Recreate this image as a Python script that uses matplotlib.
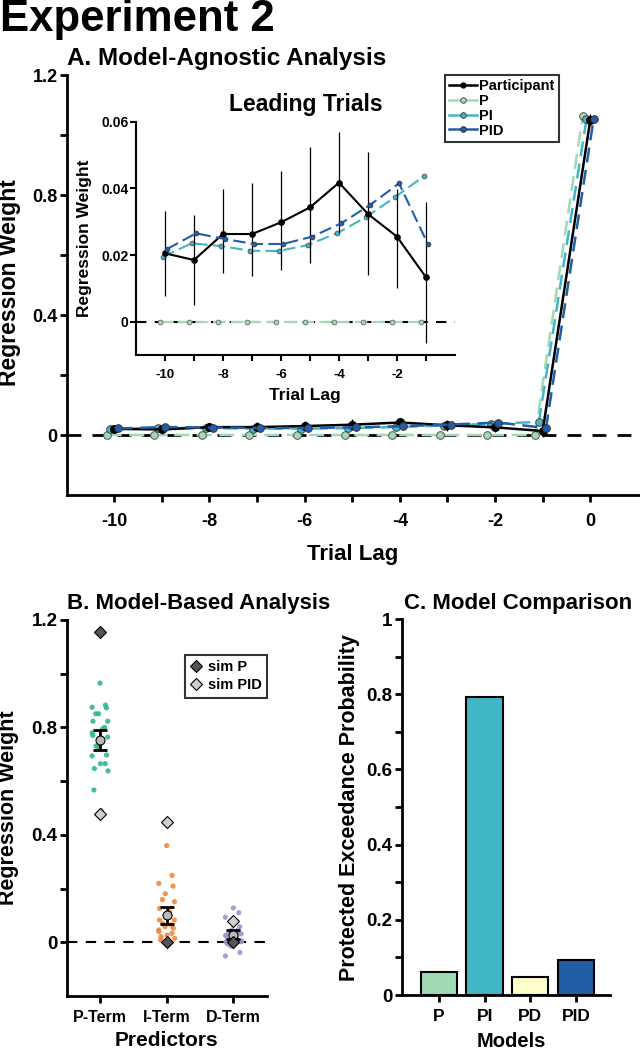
import numpy as np
import matplotlib
matplotlib.use('Agg')
import matplotlib.pyplot as plt
from matplotlib.lines import Line2D

plt.rcParams['font.family'] = ['Liberation Sans', 'DejaVu Sans']
plt.rcParams['font.weight'] = 'bold'
plt.rcParams['axes.labelweight'] = 'bold'
plt.rcParams['axes.titleweight'] = 'bold'

# ---------------- data: panel A ----------------
lags = [-10, -9, -8, -7, -6, -5, -4, -3, -2, -1, 0]
participant = [0.0205, 0.0185, 0.0263, 0.0263, 0.0298, 0.0343, 0.0417, 0.0323, 0.0255, 0.0133, 1.050]
participant_lo = [0.0077, 0.0050, 0.0145, 0.0137, 0.0155, 0.0175, 0.0265, 0.0140, 0.0100, -0.0065, 1.030]
participant_hi = [0.0332, 0.0320, 0.0398, 0.0417, 0.0453, 0.0523, 0.0570, 0.0510, 0.0398, 0.0359, 1.070]
model_P = [0.0, 0.0, 0.0, 0.0, 0.0, 0.0, 0.0, 0.0, 0.0, 0.0, 1.062]
model_PI = [0.0195, 0.0235, 0.0227, 0.0213, 0.0212, 0.0230, 0.0265, 0.0313, 0.0373, 0.0436, 1.052]
model_PID = [0.0218, 0.0265, 0.0248, 0.0233, 0.0233, 0.0255, 0.0295, 0.0350, 0.0415, 0.0232, 1.052]
series_names = ['Participant', 'P', 'PI', 'PID']

# ---------------- data: panel B ----------------
predictors = ['P-Term', 'I-Term', 'D-Term']
p_term = [0.965, 0.883, 0.875, 0.873, 0.851, 0.851, 0.823, 0.823, 0.795, 0.795, 0.770, 0.764,
          0.731, 0.727, 0.697, 0.694, 0.665, 0.665, 0.647, 0.638, 0.567, 0.490, 0.800, 0.780]
i_term = [0.360, 0.249, 0.219, 0.209, 0.181, 0.159, 0.151, 0.126, 0.114, 0.101, 0.083, 0.083,
          0.070, 0.058, 0.052, 0.046, 0.033, 0.027, 0.021, 0.015, 0.009, -0.004, 0.065, 0.040]
d_term = [0.128, 0.110, 0.093, 0.058, 0.046, 0.040, 0.031, 0.027, 0.023, 0.015, 0.002, 0.002,
          -0.010, -0.016, -0.038, -0.051, 0.035, 0.020, 0.010, 0.005, -0.005, 0.030, 0.045, 0.025]
group_mean = [0.752, 0.101, 0.028]
group_err = [0.037, 0.032, 0.016]
sim_P = [1.157, 0.000, 0.000]
sim_PID = [0.478, 0.447, 0.079]

# ---------------- data: panel C ----------------
models = ['P', 'PI', 'PD', 'PID']
pxp = [0.062, 0.792, 0.047, 0.093]

# ---------------- styles ----------------
c_P = '#a1dab4'
c_PI = '#41b6c4'
c_PID = '#225ea8'
c_PD = '#ffffcc'
dot_colors = ['#35b58f', '#f0883a', '#9a96d0']
offsets = {'Participant': 0.0, 'P': -0.16, 'PI': -0.08, 'PID': 0.07}

W, H = 640, 1050
fig = plt.figure(figsize=(W / 100, H / 100), dpi=100)


def fx(px):
    return px / W


def fy(py):
    return 1 - py / H


def style_axes(ax, lw=2.0):
    for s in ['top', 'right']:
        ax.spines[s].set_visible(False)
    for s in ['left', 'bottom']:
        ax.spines[s].set_linewidth(lw)


# ================= Panel A main =================
axA = fig.add_axes([fx(66.7), fy(495), fx(640 - 66.7), (495 - 75) / H])
style_axes(axA)
axA.axhline(0, color='black', lw=2, ls=(0, (5, 4)), zorder=1)

x = np.array(lags, dtype=float)
part = np.array(participant)
err_lo = part - np.array(participant_lo)
err_hi = np.array(participant_hi) - part

axA.plot(x + offsets['P'], model_P, ls=(0, (6, 3)), color=c_P, lw=1.8, marker='o', ms=5.5,
         mfc=c_P, mec='#555555', mew=0.7, zorder=3)
axA.plot(x + offsets['PI'], model_PI, ls=(0, (6, 3)), color=c_PI, lw=1.8, marker='o', ms=5.5,
         mfc=c_PI, mec='#444444', mew=0.7, zorder=4)
axA.errorbar(x + offsets['Participant'], part, yerr=[err_lo, err_hi], color='black', lw=1.8,
             marker='o', ms=5.5, mfc='black', mec='black', elinewidth=1.0, capsize=0, zorder=5)
axA.plot(x + offsets['PID'], model_PID, ls=(0, (6, 3)), color=c_PID, lw=1.8, marker='o', ms=5.5,
         mfc=c_PID, mec='#333333', mew=0.7, zorder=6)

axA.set_xlim(-11, 1.045)
axA.set_ylim(-0.2, 1.2)
axA.set_xticks([-10, -8, -6, -4, -2, 0])
axA.set_xticklabels(['-10', '-8', '-6', '-4', '-2', '0'])
axA.set_xticks([-9, -7, -5, -3, -1], minor=True)
axA.set_yticks([0, 0.4, 0.8, 1.2])
axA.set_yticklabels(['0', '0.4', '0.8', '1.2'])
axA.set_yticks([0.2, 0.6, 1.0], minor=True)
axA.tick_params(which='both', direction='out', length=5, width=2)
axA.tick_params(axis='x', which='both', labelsize=13, pad=8)
axA.tick_params(axis='y', which='both', labelsize=13, pad=1.5)

legend_handles = [
    Line2D([], [], color='black', lw=1.8, marker='o', ms=3.5, mfc='black', mec='black'),
    Line2D([], [], color=c_P, lw=1.8, marker='o', ms=4, mfc=c_P, mec='#555555', mew=0.7),
    Line2D([], [], color=c_PI, lw=1.8, marker='o', ms=4, mfc=c_PI, mec='#444444', mew=0.7),
    Line2D([], [], color=c_PID, lw=1.8, marker='o', ms=4, mfc=c_PID, mec='#333333', mew=0.7),
]
legA = fig.legend(legend_handles, series_names, loc='upper left',
                  bbox_to_anchor=(fx(445), fy(75)), bbox_transform=fig.transFigure,
                  fontsize=10.5, frameon=True, fancybox=False, edgecolor='black',
                  handlelength=1.9, handletextpad=0.15, labelspacing=0.05, borderpad=0.3,
                  borderaxespad=0)
legA.get_frame().set_linewidth(1.5)

# ================= Inset =================
axI = fig.add_axes([fx(136), fy(355), fx(455 - 136), (355 - 121.7) / H])
axI.set_facecolor('none')
style_axes(axI, lw=1.5)
axI.axhline(0, color='black', lw=1.5, ls=(0, (5, 4)), zorder=1)
xi = x[:-1]
axI.plot(xi + offsets['P'], model_P[:-1], ls=(0, (6, 2.5)), color=c_P, lw=1.5, marker='o', ms=3.5,
         mfc=c_P, mec='#555555', mew=0.5, zorder=3)
axI.plot(xi + offsets['PI'], model_PI[:-1], ls=(0, (6, 2.5)), color=c_PI, lw=1.5, marker='o', ms=3.5,
         mfc=c_PI, mec='#444444', mew=0.5, zorder=4)
axI.errorbar(xi, part[:-1], yerr=[err_lo[:-1], err_hi[:-1]], color='black', lw=1.5,
             marker='o', ms=3.8, mfc='black', mec='black', elinewidth=0.9, capsize=0, zorder=5)
axI.plot(xi + offsets['PID'], model_PID[:-1], ls=(0, (6, 2.5)), color=c_PID, lw=1.5, marker='o', ms=3.5,
         mfc=c_PID, mec='#333333', mew=0.5, zorder=6)
axI.set_xlim(-11, 0)
axI.set_ylim(-0.01, 0.06)
axI.set_xticks([-10, -8, -6, -4, -2])
axI.set_xticklabels(['-10', '-8', '-6', '-4', '-2'])
axI.set_xticks([-9, -7, -5, -3, -1], minor=True)
axI.set_yticks([0, 0.02, 0.04, 0.06])
axI.set_yticklabels(['0', '0.02', '0.04', '0.06'])
axI.tick_params(which='both', direction='out', length=4, width=1.5)
axI.tick_params(axis='x', which='both', labelsize=9.5, pad=6)
axI.tick_params(axis='y', which='both', labelsize=10, pad=1.5)

# ================= Panel B =================
axB = fig.add_axes([fx(66.7), fy(996), fx(266.7 - 66.7), (996 - 620) / H])
style_axes(axB)
axB.axhline(0, color='black', lw=1.5, ls=(0, (5, 4)), zorder=1)
groups = [p_term, i_term, d_term]
for gi, vals in enumerate(groups):
    n = len(vals)
    jitter = 0.12 * np.sin(np.arange(n) * 2.4)
    axB.scatter(gi + 1 + jitter, vals, s=14, color=dot_colors[gi], alpha=0.9,
                edgecolors='none', zorder=2)
pos = np.arange(1, len(predictors) + 1)
axB.errorbar(pos, group_mean, yerr=group_err, fmt='none', ecolor='black', elinewidth=2,
             capsize=5, capthick=2, zorder=4)
axB.plot(pos, group_mean, 'o', ms=6.5, mfc='#b8b8b8', mec='black', mew=0.8, zorder=5)
axB.plot(pos, sim_P, 'D', ms=6, mfc='#555555', mec='black', mew=0.8, zorder=6, label='sim P')
axB.plot(pos, sim_PID, 'D', ms=6, mfc='#cfcfcf', mec='black', mew=0.8, zorder=6, label='sim PID')
axB.set_xlim(0.5, 3.5)
axB.set_ylim(-0.2, 1.2)
axB.set_xticks(pos)
axB.set_xticklabels(predictors)
axB.set_yticks([0, 0.4, 0.8, 1.2])
axB.set_yticklabels(['0', '0.4', '0.8', '1.2'])
axB.set_yticks([0.2, 0.6, 1.0], minor=True)
axB.tick_params(which='both', direction='out', length=5, width=2)
axB.tick_params(axis='x', which='both', labelsize=11.5, pad=5)
axB.tick_params(axis='y', which='both', labelsize=13.5, pad=1.5)
legB = fig.legend(*axB.get_legend_handles_labels(), loc='upper right',
                  bbox_to_anchor=(fx(266.7), fy(655)), bbox_transform=fig.transFigure,
                  fontsize=10.5, frameon=True, fancybox=False, edgecolor='black',
                  handlelength=0.8, handletextpad=0.4, labelspacing=0.3, borderpad=0.35,
                  borderaxespad=0)
legB.get_frame().set_linewidth(1.5)

# ================= Panel C =================
axC = fig.add_axes([fx(401.7), fy(995), fx(610 - 401.7), (995 - 619) / H])
style_axes(axC)
xc = np.arange(1, len(models) + 1)
axC.bar(xc, pxp, width=0.8, color=[c_P, c_PI, c_PD, c_PID], edgecolor='black', linewidth=1.5,
        zorder=2)
axC.set_xlim(0.18, 4.75)
axC.set_ylim(0, 1)
axC.set_xticks(xc)
axC.set_xticklabels(models)
axC.set_yticks([0, 0.2, 0.4, 0.6, 0.8, 1.0])
axC.set_yticklabels(['0', '0.2', '0.4', '0.6', '0.8', '1'])
axC.set_yticks([0.1, 0.3, 0.5, 0.7, 0.9], minor=True)
axC.tick_params(which='both', direction='out', length=5, width=2)
axC.tick_params(axis='x', which='both', labelsize=12.5, pad=5)
axC.tick_params(axis='y', which='both', labelsize=13.5, pad=1.5)

# ================= texts =================
fig.text(0.0, fy(31), 'Experiment 2', fontsize=31.5, fontweight='bold', ha='left', va='baseline')
fig.text(fx(67), fy(65), 'A. Model-Agnostic Analysis', fontsize=17.5, fontweight='bold',
         ha='left', va='baseline')
fig.text(fx(67), fy(609), 'B. Model-Based Analysis', fontsize=16, fontweight='bold',
         ha='left', va='baseline')
fig.text(fx(404), fy(609), 'C. Model Comparison', fontsize=16, fontweight='bold',
         ha='left', va='baseline')
fig.text(fx(306), fy(110.7), 'Leading Trials', fontsize=16.5, fontweight='bold',
         ha='center', va='baseline')
fig.text(fx(10), fy(283), 'Regression Weight', fontsize=16.5, fontweight='bold',
         rotation=90, ha='center', va='center')
fig.text(fx(353), fy(560), 'Trial Lag', fontsize=16, fontweight='bold', ha='center', va='baseline')
fig.text(fx(85), fy(238), 'Regression Weight', fontsize=12.5, fontweight='bold',
         rotation=90, ha='center', va='center')
fig.text(fx(305), fy(400), 'Trial Lag', fontsize=12.5, fontweight='bold', ha='center', va='baseline')
fig.text(fx(9), fy(808), 'Regression Weight', fontsize=15.5, fontweight='bold',
         rotation=90, ha='center', va='center')
fig.text(fx(166), fy(1046), 'Predictors', fontsize=15, fontweight='bold', ha='center', va='baseline')
fig.text(fx(350), fy(808), 'Protected Exceedance Probability', fontsize=15.5, fontweight='bold',
         rotation=90, ha='center', va='center')
fig.text(fx(511), fy(1047), 'Models', fontsize=14.5, fontweight='bold', ha='center', va='baseline')

fig.savefig('out.png', dpi=100)
